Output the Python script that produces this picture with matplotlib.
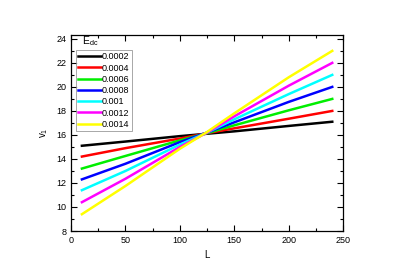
import matplotlib
matplotlib.use("Agg")
import matplotlib.pyplot as plt
from matplotlib.ticker import MultipleLocator

plt.rcParams['font.family'] = ['Liberation Sans', 'DejaVu Sans']

L = [10, 50, 100, 125, 150, 200, 240]
labels = ['0.0002', '0.0004', '0.0006', '0.0008', '0.001', '0.0012', '0.0014']
colors = ['black', 'red', '#00ee00', 'blue', 'cyan', 'magenta', 'yellow']
v_0002 = [15.1, 15.45, 15.9, 16.1, 16.3, 16.75, 17.1]
v_0004 = [14.2, 14.9, 15.7, 16.15, 16.55, 17.35, 18.0]
v_0006 = [13.2, 14.25, 15.55, 16.15, 16.8, 18.05, 19.0]
v_0008 = [12.3, 13.6, 15.4, 16.2, 17.05, 18.75, 20.0]
v_001 = [11.4, 13.0, 15.2, 16.2, 17.3, 19.4, 21.0]
v_0012 = [10.4, 12.35, 15.0, 16.2, 17.55, 20.1, 22.0]
v_0014 = [9.4, 11.75, 14.85, 16.25, 17.8, 20.8, 23.0]
series = [v_0002, v_0004, v_0006, v_0008, v_001, v_0012, v_0014]

fig = plt.figure(figsize=(3.99, 2.77), dpi=100)
ax = fig.add_axes([0.178, 0.166, 0.682, 0.708])
for v, c, lab in zip(series, colors, labels):
    ax.plot(L, v, color=c, lw=1.8, label=lab)

ax.set_xlim(0, 250)
ax.set_ylim(8, 24.33)
ax.xaxis.set_major_locator(MultipleLocator(50))
ax.xaxis.set_minor_locator(MultipleLocator(25))
ax.yaxis.set_major_locator(MultipleLocator(2))
ax.yaxis.set_minor_locator(MultipleLocator(1))
ax.tick_params(which='both', direction='in', top=True, right=True, labelsize=6.5, width=0.8)
ax.tick_params(which='major', length=4)
ax.tick_params(which='minor', length=2)
for s in ax.spines.values():
    s.set_linewidth(0.9)
ax.set_xlabel('L', fontsize=7)
ax.set_ylabel(r'$\mathregular{v_1}$', fontsize=7)

leg = ax.legend(loc='upper left', fontsize=6.5,
                frameon=True, fancybox=False, edgecolor='gray',
                borderpad=0.25, labelspacing=0.25, handlelength=2.5, handletextpad=0.15,
                bbox_to_anchor=(0.018, 0.923), borderaxespad=0.0)
leg.get_frame().set_linewidth(0.6)
for line in leg.get_lines():
    line.set_linewidth(1.8)

ax.text(0.04, 0.935, r'$\mathregular{E_{dc}}$', transform=ax.transAxes,
        fontsize=7.5, ha='left', va='bottom')

fig.savefig('out.png', dpi=100)
